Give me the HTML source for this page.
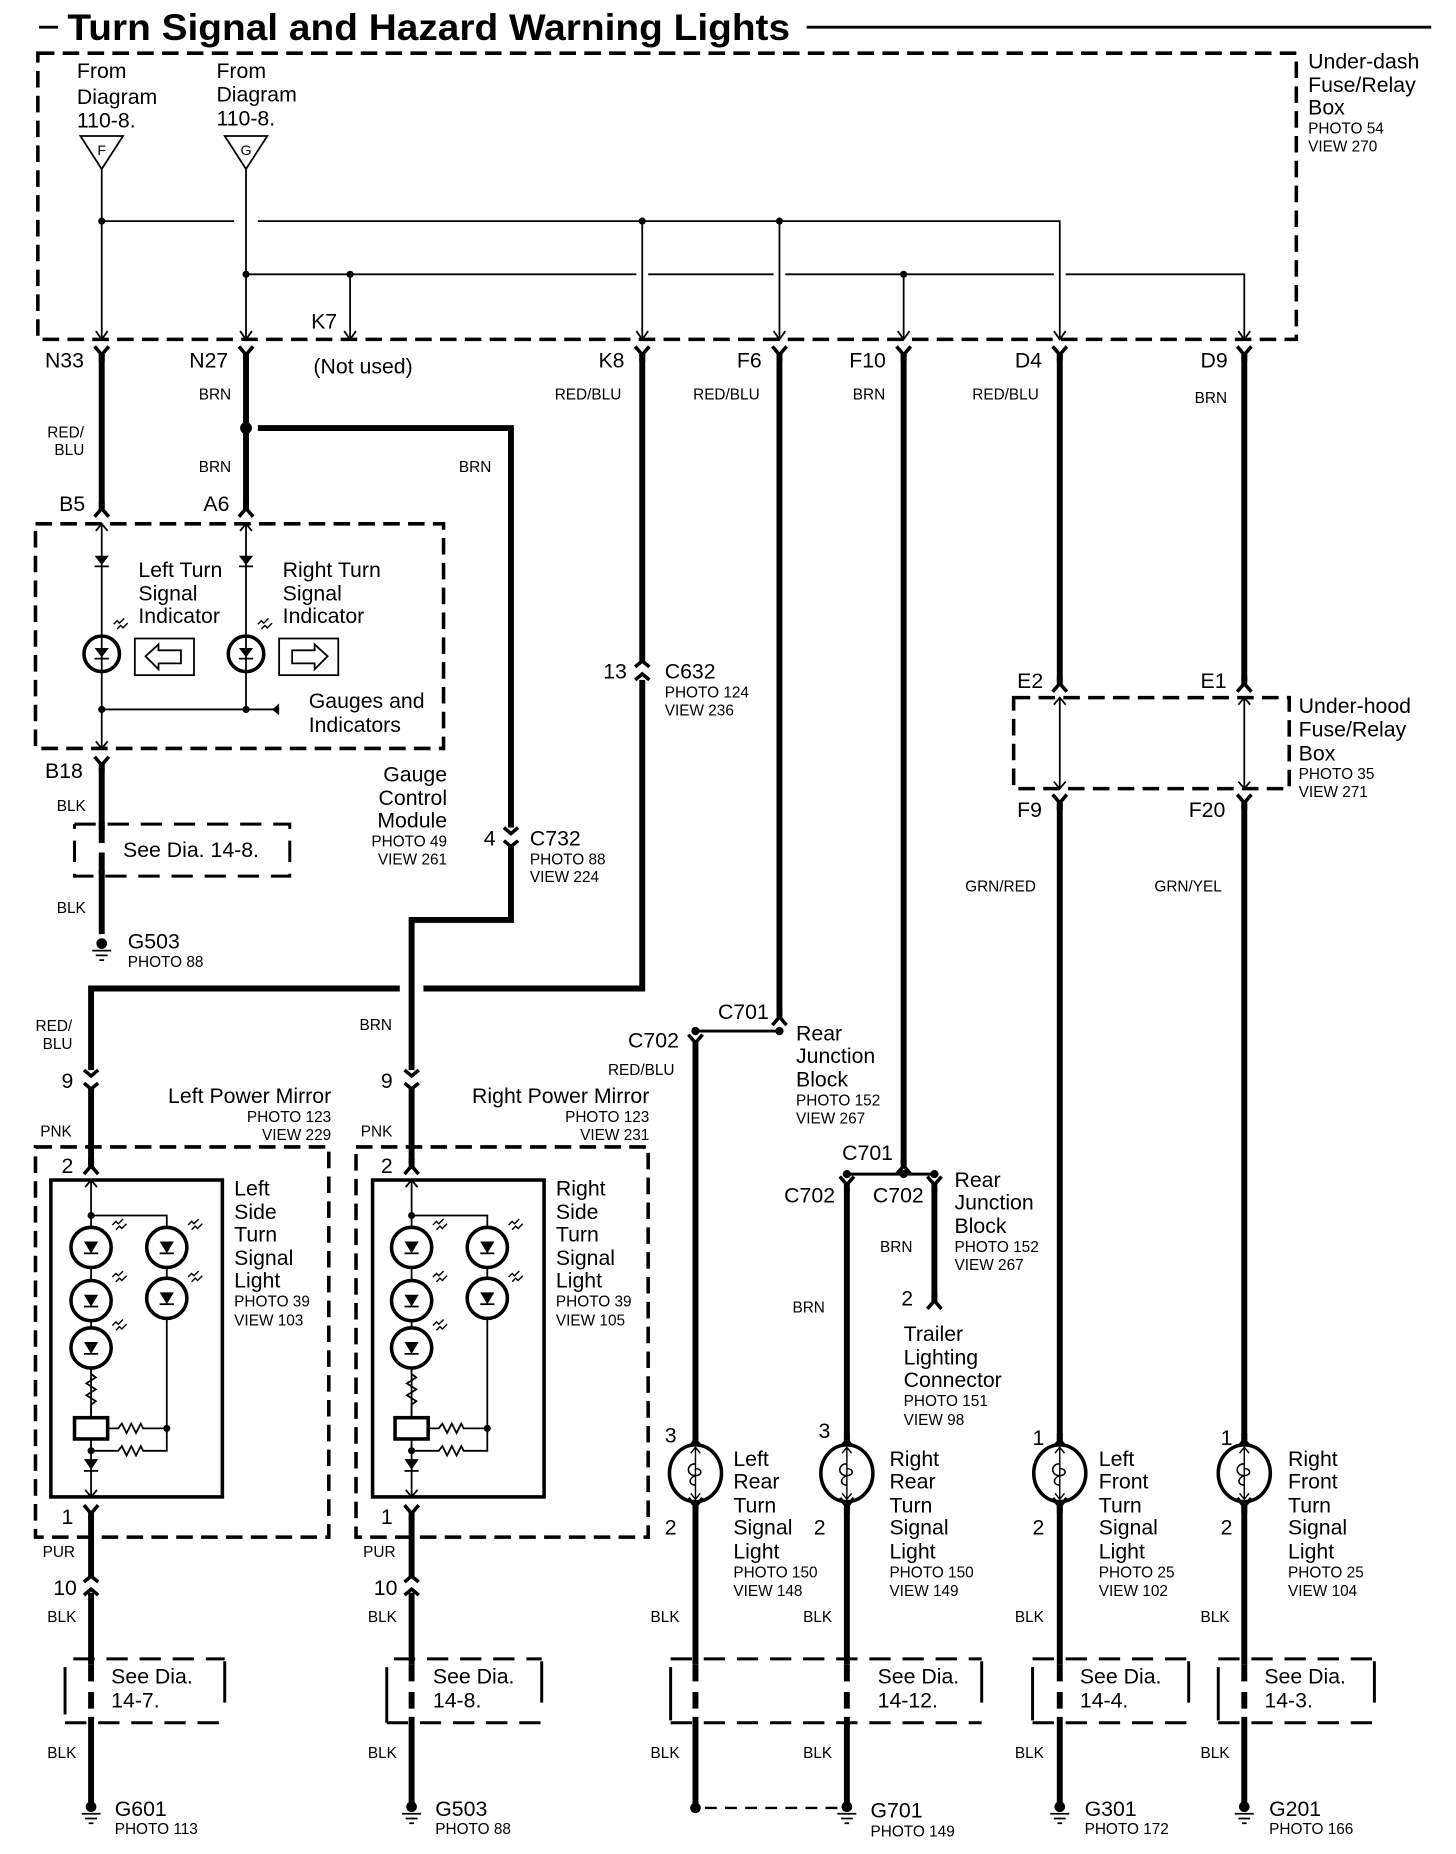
<!DOCTYPE html>
<html><head><meta charset="utf-8"><style>
html,body{margin:0;padding:0;background:#fff}
svg{display:block}
text{font-family:"Liberation Sans",Arial,sans-serif;fill:#000}
.L{font-size:18px}
.S{font-size:13px}
.W{font-size:13px}
.thin{stroke:#000;stroke-width:1.5;fill:none}
.med{stroke:#000;stroke-width:2.5;fill:none}
.wire{stroke:#000;stroke-width:5;fill:none}
.dash{stroke:#000;stroke-width:3;fill:none;stroke-dasharray:14 7}
.dash2{stroke:#000;stroke-width:2.5;fill:none;stroke-dasharray:18 10}
</style></head><body>
<svg width="1456" height="1854" viewBox="0 0 1231 1568" preserveAspectRatio="none" xmlns="http://www.w3.org/2000/svg">
<defs>
 <g id="ydown"><path d="M-6 -5 L0 2 L6 -5" stroke="#000" stroke-width="3" fill="none"/><line x1="0" y1="0" x2="0" y2="8" stroke="#000" stroke-width="5"/></g>
 <g id="yup"><path d="M-6 5 L0 -2 L6 5" stroke="#000" stroke-width="3" fill="none"/><line x1="0" y1="0" x2="0" y2="-8" stroke="#000" stroke-width="5"/></g>
 <g id="inl"><path d="M-6 -8 L0 -3 L6 -8 M-6 3 L0 8 L6 3" stroke="#000" stroke-width="3" fill="none"/></g>
 <g id="inlu"><path d="M-6 -3 L0 -8 L6 -3 M-6 8 L0 3 L6 8" stroke="#000" stroke-width="3" fill="none"/></g>
 <g id="gnd"><circle cx="0" cy="-2" r="4.5" fill="#000"/><path d="M-8 4 H8 M-5 8 H5 M-2 12 H2" stroke="#000" stroke-width="1.5"/></g>
 <g id="led"><circle cx="0" cy="0" r="17" fill="#fff" stroke="#000" stroke-width="3"/><path d="M-6 -5 H6 L0 5 Z" fill="#000"/><path d="M-6 5 H6" stroke="#000" stroke-width="1.5"/></g>
 <g id="rays"><path d="M0 6 l3 -3 l2 2 l4 -4 M3 10 l3 -3 l2 2 l4 -4" stroke="#000" stroke-width="1.2" fill="none"/></g>
 <g id="lamp"><ellipse cx="0" cy="0" rx="22" ry="24" fill="#fff" stroke="#000" stroke-width="3"/><path d="M0 -22 V22 M-4 -17 L0 -22 L4 -17 M-4 17 L0 22 L4 17" stroke="#000" stroke-width="1.2" fill="none"/><path d="M0 -8 C-8 -8 -8 2 0 2 C6 2 6 -4 0 -4 M0 2 C-6 4 -6 10 0 10" stroke="#000" stroke-width="1.3" fill="none"/></g>
 <g id="mirror">
  <line x1="77" y1="998" x2="77" y2="1266" class="thin"/>
  <path d="M72 1004 L77 998 L82 1004 M72 1260 L77 1266 L82 1260" class="thin"/>
  <circle cx="77" cy="1028" r="3" fill="#000"/>
  <path d="M77 1028 H141 V1212" class="thin"/>
  <use href="#led" x="77" y="1055"/><use href="#led" x="77" y="1100"/><use href="#led" x="77" y="1140"/>
  <use href="#led" x="141" y="1055"/><use href="#led" x="141" y="1098"/>
  <use href="#rays" x="95" y="1030"/><use href="#rays" x="95" y="1074"/><use href="#rays" x="95" y="1115"/>
  <use href="#rays" x="159" y="1030"/><use href="#rays" x="159" y="1074"/>
  <path d="M77 1157 L77 1162 L81 1165 L73 1170 L81 1175 L73 1180 L81 1185 L77 1188 L77 1198" class="thin"/>
  <rect x="63" y="1199" width="28" height="18" fill="#fff" stroke="#000" stroke-width="3"/>
  <path d="M91 1208 H100 L103 1204 L107 1212 L111 1204 L115 1212 L119 1204 L121 1208 H141" class="thin"/>
  <circle cx="141" cy="1208" r="3" fill="#000"/>
  <circle cx="77" cy="1227" r="3" fill="#000"/>
  <path d="M77 1217 V1227 H100 L103 1223 L107 1231 L111 1223 L115 1231 L119 1223 L121 1227 H141 V1208" class="thin"/>
  <path d="M71 1234 H83 L77 1243 Z" fill="#000"/><path d="M71 1244 H83" class="thin"/>
 </g>
</defs>

<!-- title -->
<line x1="33" y1="23" x2="49" y2="23" stroke="#000" stroke-width="2.5"/>
<text x="57" y="34" font-size="31" font-weight="bold" textLength="611" lengthAdjust="spacingAndGlyphs">Turn Signal and Hazard Warning Lights</text>
<line x1="682" y1="23" x2="1210" y2="23" stroke="#000" stroke-width="2.5"/>

<!-- top box -->
<rect x="32" y="45" width="1064" height="242" class="dash"/>
<text class="L" x="1106" y="58">Under-dash</text>
<text class="L" x="1106" y="78">Fuse/Relay</text>
<text class="L" x="1106" y="97">Box</text>
<text class="S" x="1106" y="113">PHOTO 54</text>
<text class="S" x="1106" y="128">VIEW 270</text>
<text class="L" x="65" y="66">From</text><text class="L" x="65" y="88">Diagram</text><text class="L" x="65" y="108">110-8.</text>
<text class="L" x="183" y="66">From</text><text class="L" x="183" y="86">Diagram</text><text class="L" x="183" y="106">110-8.</text>
<path d="M68 115 H104 L86 143 Z" fill="#fff" stroke="#000" stroke-width="1.5"/><text x="86" y="131" font-size="12" text-anchor="middle">F</text>
<path d="M190 115 H226 L208 143 Z" fill="#fff" stroke="#000" stroke-width="1.5"/><text x="208" y="131" font-size="12" text-anchor="middle">G</text>
<g class="thin">
 <path d="M86 143 V287 M208 143 V287 M86 187 H198 M218 187 H896 V287 M543 187 V287 M659 187 V287"/>
 <path d="M208 232 H538 M548 232 H654 M664 232 H891 M901 232 H1052 V287 M296 232 V287 M764 232 V287"/>
 <path d="M81 280 L86 287 L91 280 M203 280 L208 287 L213 280 M291 280 L296 287 L301 280 M538 280 L543 287 L548 280 M654 280 L659 287 L664 280 M759 280 L764 287 L769 280 M891 280 L896 287 L901 280 M1047 280 L1052 287 L1057 280"/>
</g>
<g fill="#000"><circle cx="86" cy="187" r="3"/><circle cx="543" cy="187" r="3"/><circle cx="659" cy="187" r="3"/><circle cx="208" cy="232" r="3"/><circle cx="296" cy="232" r="3"/><circle cx="764" cy="232" r="3"/></g>

<!-- top connectors -->
<use href="#ydown" x="86" y="298"/><use href="#ydown" x="208" y="298"/><use href="#ydown" x="543" y="298"/><use href="#ydown" x="659" y="298"/><use href="#ydown" x="764" y="298"/><use href="#ydown" x="896" y="298"/><use href="#ydown" x="1052" y="298"/>
<text class="L" x="38" y="311">N33</text><text class="L" x="160" y="311">N27</text><text class="L" x="263" y="278">K7</text><text class="L" x="265" y="316">(Not used)</text>
<text class="L" x="506" y="311">K8</text><text class="L" x="623" y="311">F6</text><text class="L" x="718" y="311">F10</text><text class="L" x="858" y="311">D4</text><text class="L" x="1015" y="311">D9</text>
<text class="W" x="168" y="338">BRN</text><text class="W" x="469" y="338">RED/BLU</text><text class="W" x="586" y="338">RED/BLU</text><text class="W" x="721" y="338">BRN</text><text class="W" x="822" y="338">RED/BLU</text><text class="W" x="1010" y="341">BRN</text>
<text class="W" x="40" y="370">RED/</text><text class="W" x="46" y="385">BLU</text>
<text class="W" x="168" y="399">BRN</text><text class="W" x="388" y="399">BRN</text>

<!-- wires -->
<g class="wire">
 <path d="M86 300 V430"/>
 <path d="M208 300 V430"/>
 <path d="M218 362 H432 V700 M432 716 V778 H348 V905 M348 921 V985"/>
 <path d="M543 300 V560 M543 575 V836 H358 M338 836 H77 V905 M77 921 V985"/>
 <path d="M659 300 V858"/>
 <path d="M764 300 V985"/>
 <path d="M896 300 V577 M896 680 V1218"/>
 <path d="M1052 300 V577 M1052 680 V1218"/>
 <path d="M588 885 V1218 M716 1005 V1218 M790 1005 V1097"/>
 <path d="M86 648 V790"/>
 <path d="M77 1282 V1335 M77 1347 V1526 M348 1282 V1335 M348 1347 V1526"/>
 <path d="M588 1272 V1526 M716 1272 V1526 M896 1272 V1526 M1052 1272 V1526"/>
</g>
<circle cx="208" cy="362" r="5" fill="#000"/>

<!-- gauge box -->
<use href="#yup" x="86" y="432"/><use href="#yup" x="208" y="432"/>
<text class="L" x="50" y="432">B5</text><text class="L" x="172" y="432">A6</text>
<rect x="30" y="443" width="345" height="190" class="dash"/>
<g class="thin">
 <path d="M86 443 V633 M208 443 V600"/>
 <path d="M81 449 L86 443 L91 449 M203 449 L208 443 L213 449 M81 627 L86 633 L91 627"/>
 <path d="M86 600 H236"/>
</g>
<path d="M80 470 H92 L86 478 Z M202 470 H214 L208 478 Z" fill="#000"/><path d="M80 479 H92 M202 479 H214" class="thin"/>
<circle cx="86" cy="553" r="15" fill="#fff" stroke="#000" stroke-width="3"/><path d="M80 548 H92 L86 556 Z" fill="#000"/><path d="M80 557 H92 M86 538 V568" class="thin"/>
<circle cx="208" cy="553" r="15" fill="#fff" stroke="#000" stroke-width="3"/><path d="M202 548 H214 L208 556 Z" fill="#000"/><path d="M202 557 H214 M208 538 V568" class="thin"/>
<use href="#rays" x="96" y="522"/><use href="#rays" x="218" y="522"/>
<rect x="114" y="540" width="50" height="31" fill="#fff" stroke="#000" stroke-width="1.5"/>
<path d="M123 555 L134 545 V550 H153 V561 H134 V566 Z" fill="none" stroke="#000" stroke-width="1.5"/>
<rect x="236" y="540" width="50" height="31" fill="#fff" stroke="#000" stroke-width="1.5"/>
<path d="M277 555 L266 545 V550 H247 V561 H266 V566 Z" fill="none" stroke="#000" stroke-width="1.5"/>
<circle cx="86" cy="600" r="3" fill="#000"/><circle cx="208" cy="600" r="3" fill="#000"/>
<path d="M236 595 L230 600 L236 605 Z" fill="#000"/>
<text class="L" x="117" y="488">Left Turn</text><text class="L" x="117" y="508">Signal</text><text class="L" x="117" y="527">Indicator</text>
<text class="L" x="239" y="488">Right Turn</text><text class="L" x="239" y="508">Signal</text><text class="L" x="239" y="527">Indicator</text>
<text class="L" x="261" y="599">Gauges and</text><text class="L" x="261" y="619">Indicators</text>
<use href="#ydown" x="86" y="645"/>
<text class="L" x="38" y="658">B18</text>
<text class="L" x="378" y="661" text-anchor="end">Gauge</text><text class="L" x="378" y="681" text-anchor="end">Control</text><text class="L" x="378" y="700" text-anchor="end">Module</text>
<text class="S" x="378" y="716" text-anchor="end">PHOTO 49</text><text class="S" x="378" y="731" text-anchor="end">VIEW 261</text>
<text class="W" x="48" y="686">BLK</text><text class="W" x="48" y="772">BLK</text>
<path d="M63 697 H245 V741 H63 V697" class="dash2" stroke-width="2"/>
<rect x="78" y="702" width="16" height="34" fill="#fff"/><line x1="86" y1="695" x2="86" y2="745" stroke="#000" stroke-width="5" stroke-dasharray="18 8"/>
<text class="L" x="104" y="725">See Dia. 14-8.</text>
<use href="#gnd" x="86" y="800"/>
<text class="L" x="108" y="802">G503</text><text class="S" x="108" y="818">PHOTO 88</text>

<!-- C632, C732 -->
<use href="#inlu" x="543" y="567"/>
<text class="L" x="510" y="574">13</text><text class="L" x="562" y="574">C632</text><text class="S" x="562" y="590">PHOTO 124</text><text class="S" x="562" y="605">VIEW 236</text>
<use href="#inl" x="432" y="708"/>
<text class="L" x="409" y="715">4</text><text class="L" x="448" y="715">C732</text><text class="S" x="448" y="731">PHOTO 88</text><text class="S" x="448" y="746">VIEW 224</text>

<!-- under-hood -->
<use href="#yup" x="896" y="580"/><use href="#yup" x="1052" y="580"/>
<text class="L" x="860" y="582">E2</text><text class="L" x="1015" y="582">E1</text>
<rect x="857" y="590" width="233" height="77" class="dash"/>
<path d="M896 590 V667 M1052 590 V667 M891 596 L896 590 L901 596 M1047 596 L1052 590 L1057 596 M891 661 L896 667 L901 661 M1047 661 L1052 667 L1057 661" class="thin"/>
<use href="#ydown" x="896" y="677"/><use href="#ydown" x="1052" y="677"/>
<text class="L" x="860" y="691">F9</text><text class="L" x="1005" y="691">F20</text>
<text class="L" x="1098" y="603">Under-hood</text><text class="L" x="1098" y="623">Fuse/Relay</text><text class="L" x="1098" y="643">Box</text>
<text class="S" x="1098" y="659">PHOTO 35</text><text class="S" x="1098" y="674">VIEW 271</text>
<text class="W" x="816" y="754">GRN/RED</text><text class="W" x="976" y="754">GRN/YEL</text>

<!-- mirrors -->
<text class="W" x="30" y="872">RED/</text><text class="W" x="36" y="887">BLU</text>
<text class="W" x="304" y="871">BRN</text>
<use href="#inl" x="77" y="913"/><use href="#inl" x="348" y="913"/>
<text class="L" x="52" y="920">9</text><text class="L" x="322" y="920">9</text>
<text class="L" x="280" y="933" text-anchor="end">Left Power Mirror</text><text class="S" x="280" y="949" text-anchor="end">PHOTO 123</text><text class="S" x="280" y="964" text-anchor="end">VIEW 229</text>
<text class="L" x="549" y="933" text-anchor="end">Right Power Mirror</text><text class="S" x="549" y="949" text-anchor="end">PHOTO 123</text><text class="S" x="549" y="964" text-anchor="end">VIEW 231</text>
<text class="W" x="34" y="961">PNK</text><text class="W" x="305" y="961">PNK</text>
<rect x="30" y="970" width="248" height="330" class="dash"/>
<rect x="301" y="970" width="247" height="330" class="dash"/>
<use href="#yup" x="77" y="988"/><use href="#yup" x="348" y="988"/>
<text class="L" x="52" y="992">2</text><text class="L" x="322" y="992">2</text>
<rect x="43" y="998" width="145" height="268" fill="none" stroke="#000" stroke-width="3"/>
<rect x="315" y="998" width="145" height="268" fill="none" stroke="#000" stroke-width="3"/>
<use href="#mirror"/>
<use href="#mirror" x="271"/>
<text class="L" x="198" y="1011">Left</text><text class="L" x="198" y="1031">Side</text><text class="L" x="198" y="1050">Turn</text><text class="L" x="198" y="1070">Signal</text><text class="L" x="198" y="1089">Light</text>
<text class="S" x="198" y="1105">PHOTO 39</text><text class="S" x="198" y="1121">VIEW 103</text>
<text class="L" x="470" y="1011">Right</text><text class="L" x="470" y="1031">Side</text><text class="L" x="470" y="1050">Turn</text><text class="L" x="470" y="1070">Signal</text><text class="L" x="470" y="1089">Light</text>
<text class="S" x="470" y="1105">PHOTO 39</text><text class="S" x="470" y="1121">VIEW 105</text>
<use href="#ydown" x="77" y="1278"/><use href="#ydown" x="348" y="1278"/>
<text class="L" x="52" y="1289">1</text><text class="L" x="322" y="1289">1</text>
<text class="W" x="36" y="1317">PUR</text><text class="W" x="307" y="1317">PUR</text>
<use href="#inlu" x="77" y="1341"/><use href="#inlu" x="348" y="1341"/>
<text class="L" x="45" y="1349">10</text><text class="L" x="316" y="1349">10</text>

<!-- rear junction -->
<use href="#yup" x="659" y="862"/>
<text class="L" x="607" y="862">C701</text>
<path d="M588 872 H659" class="med"/><circle cx="588" cy="872" r="3.5" fill="#000"/><circle cx="659" cy="872" r="3.5" fill="#000"/>
<use href="#ydown" x="588" y="880"/>
<text class="L" x="531" y="886">C702</text>
<text class="W" x="514" y="909">RED/BLU</text>
<text class="L" x="673" y="880">Rear</text><text class="L" x="673" y="899">Junction</text><text class="L" x="673" y="919">Block</text>
<text class="S" x="673" y="935">PHOTO 152</text><text class="S" x="673" y="950">VIEW 267</text>
<use href="#yup" x="764" y="988"/>
<text class="L" x="712" y="981">C701</text>
<path d="M716 993 H790" class="med"/><circle cx="716" cy="993" r="3.5" fill="#000"/><circle cx="764" cy="993" r="3.5" fill="#000"/><circle cx="790" cy="993" r="3.5" fill="#000"/>
<use href="#ydown" x="716" y="1000"/><use href="#ydown" x="790" y="1000"/>
<text class="L" x="663" y="1017">C702</text><text class="L" x="738" y="1017">C702</text>
<text class="L" x="807" y="1004">Rear</text><text class="L" x="807" y="1023">Junction</text><text class="L" x="807" y="1043">Block</text>
<text class="S" x="807" y="1059">PHOTO 152</text><text class="S" x="807" y="1074">VIEW 267</text>
<text class="W" x="744" y="1059">BRN</text><text class="W" x="670" y="1110">BRN</text>
<use href="#yup" x="790" y="1102"/>
<text class="L" x="762" y="1104">2</text>
<text class="L" x="764" y="1134">Trailer</text><text class="L" x="764" y="1154">Lighting</text><text class="L" x="764" y="1173">Connector</text>
<text class="S" x="764" y="1189">PHOTO 151</text><text class="S" x="764" y="1205">VIEW 98</text>

<!-- lamps -->
<g>
 <use href="#yup" x="588" y="1220"/><use href="#yup" x="716" y="1220"/><use href="#yup" x="896" y="1220"/><use href="#yup" x="1052" y="1220"/>
 <use href="#lamp" x="588" y="1246"/><use href="#lamp" x="716" y="1246"/><use href="#lamp" x="896" y="1246"/><use href="#lamp" x="1052" y="1246"/>
 <use href="#ydown" x="588" y="1272"/><use href="#ydown" x="716" y="1272"/><use href="#ydown" x="896" y="1272"/><use href="#ydown" x="1052" y="1272"/>
</g>
<text class="L" x="562" y="1220">3</text><text class="L" x="692" y="1216">3</text><text class="L" x="873" y="1222">1</text><text class="L" x="1032" y="1222">1</text>
<text class="L" x="562" y="1298">2</text><text class="L" x="688" y="1298">2</text><text class="L" x="873" y="1298">2</text><text class="L" x="1032" y="1298">2</text>
<text class="L" x="620" y="1240">Left</text><text class="L" x="620" y="1259">Rear</text><text class="L" x="620" y="1279">Turn</text><text class="L" x="620" y="1298">Signal</text><text class="L" x="620" y="1318">Light</text><text class="S" x="620" y="1334">PHOTO 150</text><text class="S" x="620" y="1350">VIEW 148</text>
<text class="L" x="752" y="1240">Right</text><text class="L" x="752" y="1259">Rear</text><text class="L" x="752" y="1279">Turn</text><text class="L" x="752" y="1298">Signal</text><text class="L" x="752" y="1318">Light</text><text class="S" x="752" y="1334">PHOTO 150</text><text class="S" x="752" y="1350">VIEW 149</text>
<text class="L" x="929" y="1240">Left</text><text class="L" x="929" y="1259">Front</text><text class="L" x="929" y="1279">Turn</text><text class="L" x="929" y="1298">Signal</text><text class="L" x="929" y="1318">Light</text><text class="S" x="929" y="1334">PHOTO 25</text><text class="S" x="929" y="1350">VIEW 102</text>
<text class="L" x="1089" y="1240">Right</text><text class="L" x="1089" y="1259">Front</text><text class="L" x="1089" y="1279">Turn</text><text class="L" x="1089" y="1298">Signal</text><text class="L" x="1089" y="1318">Light</text><text class="S" x="1089" y="1334">PHOTO 25</text><text class="S" x="1089" y="1350">VIEW 104</text>

<!-- BLK labels -->
<g class="W">
 <text x="40" y="1372">BLK</text><text x="311" y="1372">BLK</text><text x="550" y="1372">BLK</text><text x="679" y="1372">BLK</text><text x="858" y="1372">BLK</text><text x="1015" y="1372">BLK</text>
 <text x="40" y="1487">BLK</text><text x="311" y="1487">BLK</text><text x="550" y="1487">BLK</text><text x="679" y="1487">BLK</text><text x="858" y="1487">BLK</text><text x="1015" y="1487">BLK</text>
</g>

<!-- see dia boxes -->
<g stroke="#000" stroke-width="2.5" fill="none">
 <path d="M62 1403 H190 M55 1457 H190" stroke-dasharray="18 10"/><path d="M55 1410 V1450 M190 1405 V1440"/>
 <path d="M333 1403 H458 M327 1457 H458" stroke-dasharray="18 10"/><path d="M327 1410 V1457 M458 1405 V1440"/>
 <path d="M567 1403 H830 M567 1457 H830" stroke-dasharray="18 10"/><path d="M567 1410 V1455 M830 1405 V1440"/>
 <path d="M873 1403 H1005 M873 1457 H1005" stroke-dasharray="18 10"/><path d="M873 1410 V1455 M1005 1405 V1440"/>
 <path d="M1030 1403 H1162 M1030 1457 H1162" stroke-dasharray="18 10"/><path d="M1030 1410 V1455 M1162 1405 V1440"/>
</g>
<g fill="#fff">
 <rect x="72" y="1408" width="10" height="44"/><rect x="343" y="1408" width="10" height="44"/><rect x="583" y="1408" width="10" height="44"/><rect x="711" y="1408" width="10" height="44"/><rect x="891" y="1408" width="10" height="44"/><rect x="1047" y="1408" width="10" height="44"/>
</g>
<g stroke="#000" stroke-width="5" stroke-dasharray="14 9">
 <path d="M77 1408 V1452 M348 1408 V1452 M588 1408 V1452 M716 1408 V1452 M896 1408 V1452 M1052 1408 V1452"/>
</g>
<text class="L" x="94" y="1424">See Dia.</text><text class="L" x="94" y="1444">14-7.</text>
<text class="L" x="366" y="1424">See Dia.</text><text class="L" x="366" y="1444">14-8.</text>
<text class="L" x="742" y="1424">See Dia.</text><text class="L" x="742" y="1444">14-12.</text>
<text class="L" x="913" y="1424">See Dia.</text><text class="L" x="913" y="1444">14-4.</text>
<text class="L" x="1069" y="1424">See Dia.</text><text class="L" x="1069" y="1444">14-3.</text>

<!-- grounds -->
<use href="#gnd" x="77" y="1530"/><use href="#gnd" x="348" y="1530"/><use href="#gnd" x="716" y="1530"/><use href="#gnd" x="896" y="1530"/><use href="#gnd" x="1052" y="1530"/>
<circle cx="588" cy="1529" r="4.5" fill="#000"/>
<path d="M596 1529 H708" stroke="#000" stroke-width="2" stroke-dasharray="10 7"/>
<text class="L" x="97" y="1536">G601</text><text class="S" x="97" y="1551">PHOTO 113</text>
<text class="L" x="368" y="1536">G503</text><text class="S" x="368" y="1551">PHOTO 88</text>
<text class="L" x="736" y="1537">G701</text><text class="S" x="736" y="1553">PHOTO 149</text>
<text class="L" x="917" y="1536">G301</text><text class="S" x="917" y="1551">PHOTO 172</text>
<text class="L" x="1073" y="1536">G201</text><text class="S" x="1073" y="1551">PHOTO 166</text>
</svg>
</body></html>
